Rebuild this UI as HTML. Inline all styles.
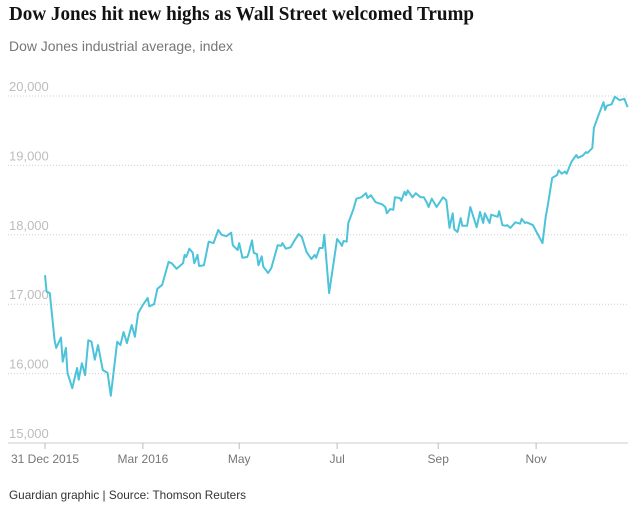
<!DOCTYPE html>
<html><head><meta charset="utf-8"><style>
html,body{margin:0;padding:0;background:#fff;width:641px;height:515px;overflow:hidden}
svg{display:block}
</style></head><body>
<svg id="chart" width="641" height="515" xmlns="http://www.w3.org/2000/svg">
<text x="9" y="20" font-family="Liberation Serif, serif" font-weight="bold" font-size="20" fill="#121212" textLength="465" lengthAdjust="spacingAndGlyphs">Dow Jones hit new highs as Wall Street welcomed Trump</text>
<text x="9" y="51" font-family="Liberation Sans, sans-serif" font-size="14" fill="#767676" textLength="224" lengthAdjust="spacingAndGlyphs">Dow Jones industrial average, index</text>
<g id="grid"></g><g id="xaxis"></g>
<path id="line" fill="none" stroke="#4cc3d9" stroke-width="2" stroke-linejoin="round"/>
<text x="9" y="499" font-family="Liberation Sans, sans-serif" font-size="12" fill="#333" textLength="237" lengthAdjust="spacingAndGlyphs">Guardian graphic | Source: Thomson Reuters</text>
</svg>
<script>
const days=[0,1,3,6,7,10,11,13,14,17,20,21,23,25,27,29,31,33,36,39,41,45,47,49,51,54,56,58,61,64,65,68,70,73,77,79,82,86,87,88,90,92,93,95,96,99,102,105,108,110,113,116,117,120,121,123,126,127,129,130,132,133,135,136,139,141,145,147,148,150,153,155,158,160,163,166,168,169,171,173,174,177,182,184,185,186,188,189,192,194,197,200,201,203,206,210,212,213,215,217,218,221,222,224,225,226,229,231,234,236,238,239,241,244,248,250,252,254,255,257,259,260,263,265,269,271,273,274,277,278,282,283,285,287,288,290,293,296,297,299,300,304,307,310,312,313,316,319,320,322,324,325,328,331,332,335,337,338,341,342,345,348,349,350,353,355,358,361,363];
const values=[17420,17180,17160,16480,16370,16520,16170,16370,16010,15790,16080,15910,16150,15980,16480,16460,16200,16410,16050,16010,15680,16460,16410,16600,16440,16700,16530,16870,16990,17090,16970,17000,17220,17280,17610,17590,17510,17590,17710,17680,17800,17740,17590,17710,17550,17560,17900,17880,18070,18000,17980,18030,17850,17780,17880,17670,17680,17740,17920,17740,17720,17560,17690,17540,17450,17520,17850,17840,17880,17800,17820,17900,18010,17970,17750,17650,17710,17670,17810,17810,18000,17160,17940,17880,17840,17910,17900,18170,18360,18520,18540,18600,18530,18570,18470,18440,18400,18310,18370,18360,18540,18530,18490,18620,18570,18640,18540,18600,18540,18540,18460,18400,18520,18400,18540,18500,18100,18310,18080,18040,18240,18130,18130,18400,18110,18330,18170,18310,18170,18290,18260,18340,18140,18130,18140,18100,18180,18160,18230,18170,18180,18140,18010,17880,18270,18390,18820,18860,18930,18880,18910,18880,19050,19150,19110,19140,19190,19180,19250,19540,19730,19910,19800,19860,19880,19990,19940,19960,19840];
const yTicks=[15000,16000,17000,18000,19000,20000];
const xTickDays=[0,61,121,182,245,306];
const xTickLabels=["31 Dec 2015","Mar 2016","May","Jul","Sep","Nov"];
const NS="http://www.w3.org/2000/svg";
const x=d=>45+d*1.605;
const y=v=>443-(v-15000)*0.0694;
const grid=document.getElementById('grid'),xa=document.getElementById('xaxis');
yTicks.forEach(t=>{
  if(t>15000){const l=document.createElementNS(NS,'line');
  
  
  l.setAttribute('x1',8);l.setAttribute('x2',628);l.setAttribute('y1',y(t));l.setAttribute('y2',y(t));
  l.setAttribute('stroke','#cfcfcf');l.setAttribute('stroke-dasharray','1,2');grid.appendChild(l);}
  const tx=document.createElementNS(NS,'text');
  
  
  tx.setAttribute('x',9);tx.setAttribute('y',y(t)-5);tx.setAttribute('font-family','Liberation Sans, sans-serif');
  tx.setAttribute('font-size','13');tx.setAttribute('fill','#bdbdbd');tx.textContent=t.toLocaleString('en-US');grid.appendChild(tx);
});
const ax=document.createElementNS(NS,'line');


ax.setAttribute('x1',8);ax.setAttribute('x2',628);ax.setAttribute('y1',443);ax.setAttribute('y2',443);ax.setAttribute('stroke','#cccccc');xa.appendChild(ax);
xTickDays.forEach((d,i)=>{
  const l=document.createElementNS(NS,'line');
  
  
  l.setAttribute('x1',x(d));l.setAttribute('x2',x(d));l.setAttribute('y1',443);l.setAttribute('y2',449);l.setAttribute('stroke','#bbbbbb');xa.appendChild(l);
  const tx=document.createElementNS(NS,'text');
  
  
  tx.setAttribute('x',x(d));tx.setAttribute('y',463);tx.setAttribute('text-anchor','middle');
  tx.setAttribute('font-family','Liberation Sans, sans-serif');tx.setAttribute('font-size','12');tx.setAttribute('fill','#767676');
  tx.textContent=xTickLabels[i];xa.appendChild(tx);
});
document.getElementById('line').setAttribute('d',days.map((d,i)=>(i?'L':'M')+x(d).toFixed(1)+','+y(values[i]).toFixed(1)).join(''));
</script>
</body></html>
